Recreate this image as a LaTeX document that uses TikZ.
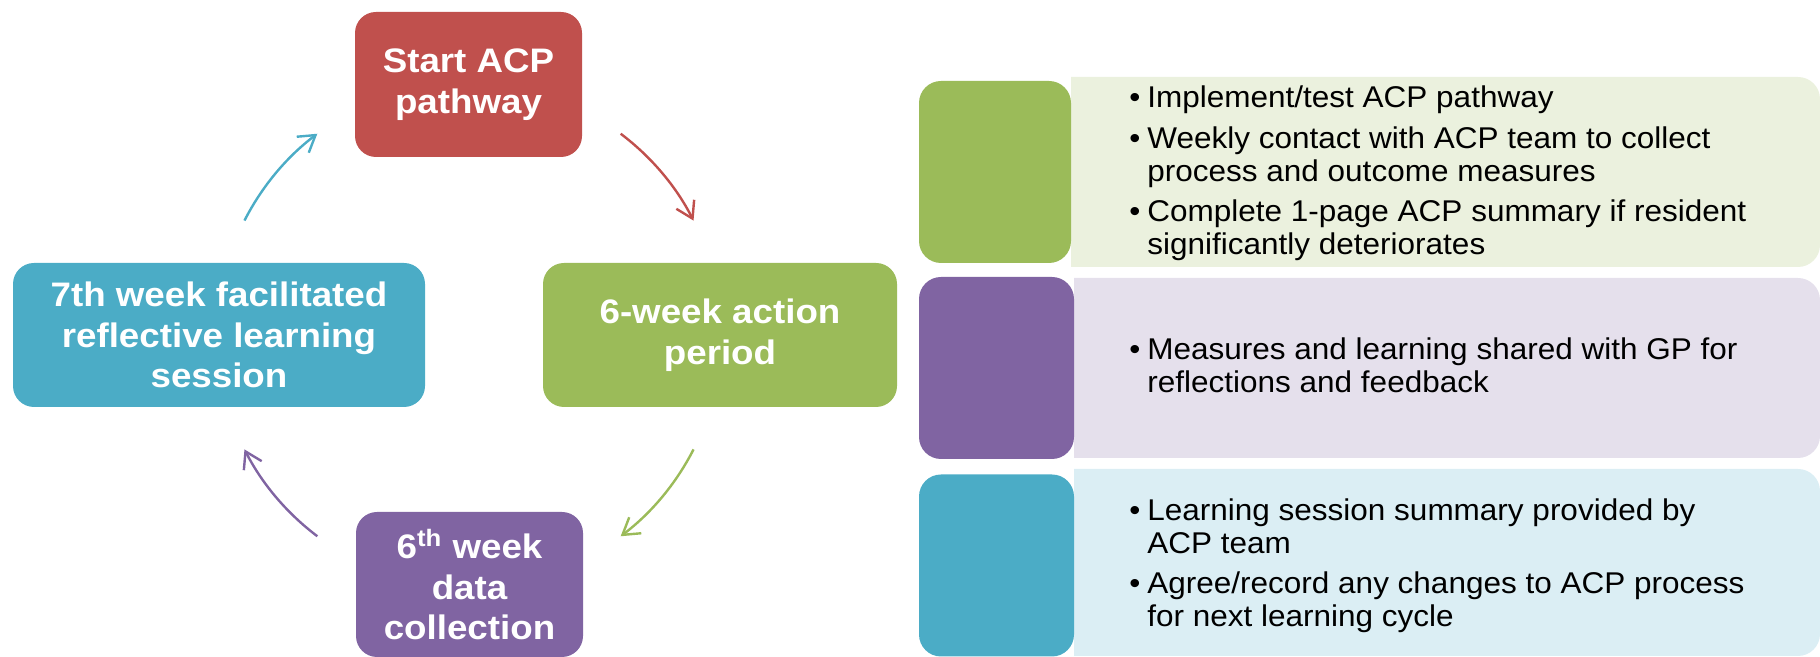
\documentclass[tikz,border=0pt]{standalone}
\usepackage{fontspec}
\setmainfont{Liberation Sans}
\newfontfamily\lfont[FakeStretch=1.08]{Liberation Sans}
\newfontfamily\rfont[FakeStretch=1.05]{Liberation Sans}
\usetikzlibrary{arrows.meta}
\definecolor{cred}{HTML}{C0504D}
\definecolor{cgreen}{HTML}{9BBB59}
\definecolor{cpurple}{HTML}{8064A2}
\definecolor{cblue}{HTML}{4BACC6}
\definecolor{lgreen}{HTML}{EBF1DE}
\definecolor{lpurple}{HTML}{E5E0EC}
\definecolor{lblue}{HTML}{DBEEF4}
\begin{document}
\begin{tikzpicture}[x=0.5pt,y=0.5pt,
  cyc/.style={rectangle, rounded corners=10.5pt, inner sep=0pt, text=white, align=center,
    font=\lfont\bfseries\fontsize{17}{20.25}\selectfont},
  blk/.style={rectangle, rounded corners=11pt, inner sep=0pt, minimum height=91pt},
  rtext/.style={anchor=base west, inner sep=0pt, font=\rfont\fontsize{15}{16.25}\selectfont},
  arr/.style={line width=1.2pt, -{Straight Barb[length=8pt,width=10pt]}}]
\useasboundingbox (0,0) rectangle (1820,657);

% cycle boxes
\node[cyc, fill=cred, minimum width=113.5pt, minimum height=72.5pt] (start) at (468.5,572.5) {Start ACP\\pathway};
\node[cyc, fill=cgreen, minimum width=177pt, minimum height=72pt] (action) at (720,322) {6-week action\\period};
\node[cyc, fill=cpurple, minimum width=113.5pt, minimum height=72.5pt] (data) at (469.5,72.5) {6\textsuperscript{th} week\\data\\collection};
\node[cyc, fill=cblue, minimum width=206pt, minimum height=72pt] (reflect) at (219,322) {7th week facilitated\\reflective learning\\session};

% cycle arrows
\coordinate (c) at (469,322);
\coordinate (r1) at ([shift={(53:126pt)}]c);
\coordinate (g1) at ([shift={(-27:126pt)}]c);
\coordinate (p1) at ([shift={(233:126pt)}]c);
\coordinate (b1) at ([shift={(153:126pt)}]c);
\draw[arr, cred] (r1) arc[start angle=53, end angle=27, radius=126pt];
\draw[arr, cgreen] (g1) arc[start angle=-27, end angle=-53, radius=126pt];
\draw[arr, cpurple] (p1) arc[start angle=233, end angle=207, radius=126pt];
\draw[arr, cblue] (b1) arc[start angle=153, end angle=127, radius=126pt];

% right panels
\fill[lgreen, rounded corners=11pt] (1400,390) -- (1820,390) -- (1820,580) -- (1400,580) [sharp corners] -- (1071,580) -- (1071,390) -- cycle;
\fill[lpurple, rounded corners=11pt] (1400,199) -- (1820,199) -- (1820,379) -- (1400,379) [sharp corners] -- (1074,379) -- (1074,199) -- cycle;
\fill[lblue, rounded corners=11pt] (1400,1) -- (1820,1) -- (1820,188) -- (1400,188) [sharp corners] -- (1074,188) -- (1074,1) -- cycle;

\node[blk, fill=cgreen, minimum width=76pt] (kg) at (995,485) {};
\node[blk, fill=cpurple, minimum width=77.5pt] (kp) at (996.5,289) {};
\node[blk, fill=cblue, minimum width=77.5pt] (kb) at (996.5,91.5) {};

% bullet texts
\node[rtext] (t1) at (1129,549) {\makebox[9pt][l]{\textbullet}Implement/test ACP pathway};
\node[rtext] (t2) at (1129,508) {\makebox[9pt][l]{\textbullet}\begin{tabular}[t]{@{}l@{}}Weekly contact with ACP team to collect\\process and outcome measures\end{tabular}};
\node[rtext] (t3) at (1129,435) {\makebox[9pt][l]{\textbullet}\begin{tabular}[t]{@{}l@{}}Complete 1-page ACP summary if resident\\significantly deteriorates\end{tabular}};
\node[rtext] (t4) at (1129,297) {\makebox[9pt][l]{\textbullet}\begin{tabular}[t]{@{}l@{}}Measures and learning shared with GP for\\reflections and feedback\end{tabular}};
\node[rtext] (t5) at (1129,136) {\makebox[9pt][l]{\textbullet}\begin{tabular}[t]{@{}l@{}}Learning session summary provided by\\ACP team\end{tabular}};
\node[rtext] (t6) at (1129,63) {\makebox[9pt][l]{\textbullet}\begin{tabular}[t]{@{}l@{}}Agree/record any changes to ACP process\\for next learning cycle\end{tabular}};
\end{tikzpicture}
\end{document}
